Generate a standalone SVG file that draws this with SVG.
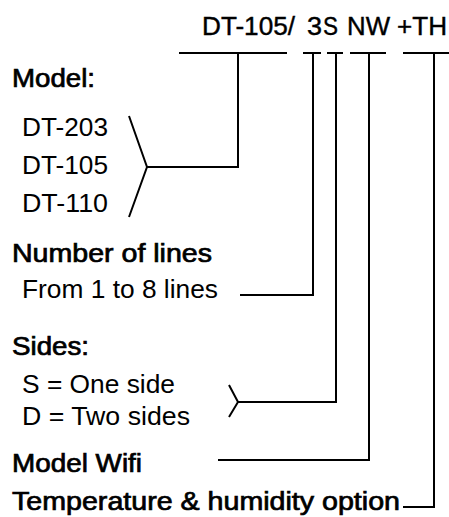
<svg xmlns="http://www.w3.org/2000/svg" width="449" height="517" viewBox="0 0 449 517">
<style>
text{font-family:"Liberation Sans",Arial,sans-serif;font-size:25px;fill:#000}
.h{stroke:#000;stroke-width:0.7}
.t{stroke:#000;stroke-width:0.4}
.c{fill:none;stroke:#000;stroke-width:2}
</style>
<rect width="449" height="517" fill="#fff"/>
<g id="code">
<text class="t" x="202" y="35" textLength="93" lengthAdjust="spacingAndGlyphs">DT-105/</text>
<text class="t" x="307" y="35" textLength="15" lengthAdjust="spacingAndGlyphs">3</text>
<text class="t" x="323" y="35" textLength="15" lengthAdjust="spacingAndGlyphs">S</text>
<text class="t" x="347" y="35" textLength="43" lengthAdjust="spacingAndGlyphs">NW</text>
<text class="t" x="397" y="35" textLength="50" lengthAdjust="spacingAndGlyphs">+TH</text>
</g>
<g id="model">
<text class="h" x="12" y="87" textLength="83" lengthAdjust="spacingAndGlyphs">Model:</text>
<text x="22" y="136" textLength="86" lengthAdjust="spacingAndGlyphs">DT-203</text>
<text x="22" y="174" textLength="86" lengthAdjust="spacingAndGlyphs">DT-105</text>
<text x="22" y="212" textLength="86" lengthAdjust="spacingAndGlyphs">DT-110</text>
</g>
<g id="lines">
<text class="h" x="12" y="262" textLength="200" lengthAdjust="spacingAndGlyphs">Number of lines</text>
<text x="22" y="298" textLength="196" lengthAdjust="spacingAndGlyphs">From 1 to 8 lines</text>
</g>
<g id="sides">
<text class="h" x="12" y="355" textLength="77" lengthAdjust="spacingAndGlyphs">Sides:</text>
<text x="22" y="393" textLength="153" lengthAdjust="spacingAndGlyphs">S = One side</text>
<text x="22" y="425" textLength="168" lengthAdjust="spacingAndGlyphs">D = Two sides</text>
</g>
<g id="wifi">
<text class="h" x="12" y="472" textLength="130" lengthAdjust="spacingAndGlyphs">Model Wifi</text>
</g>
<g id="th">
<text class="h" x="12" y="510" textLength="388" lengthAdjust="spacingAndGlyphs">Temperature &amp; humidity option</text>
</g>
<g id="connectors">
<path class="c" d="M179 53H287M303 53H321M327 53H343M350 53H386M403 53H449"/>
<path class="c" d="M129 116L147 167L129 217M147 167H238V53"/>
<path class="c" d="M240 295H313V53"/>
<path class="c" d="M229 385L238 402L229 417M238 402H336V53"/>
<path class="c" d="M218 460H369V53"/>
<path class="c" d="M403 507H434V53"/>
</g>
</svg>
